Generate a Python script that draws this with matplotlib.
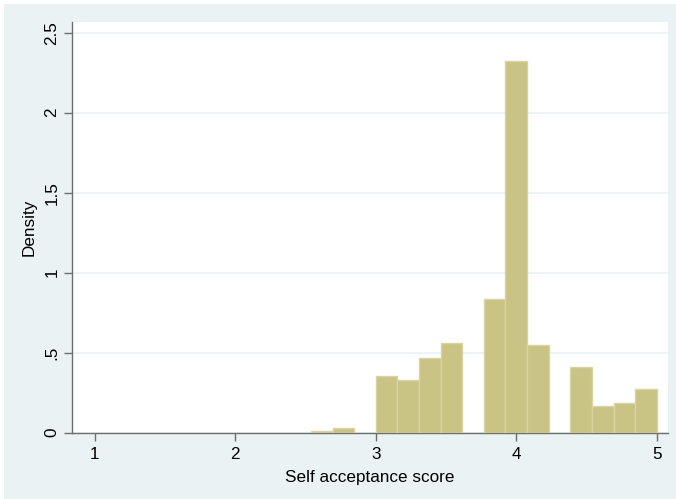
import numpy as np
import matplotlib
matplotlib.use("Agg")
import matplotlib.pyplot as plt
from matplotlib.patches import Rectangle

plt.rcParams['font.family'] = ['Liberation Sans', 'DejaVu Sans']

# Histogram of self acceptance scores: 26 bins spanning 1..5
bin_lo = 1.0
bin_hi = 5.0
n_bins = 26
density = [0, 0, 0, 0, 0, 0, 0, 0, 0, 0,
           0.009, 0.028, 0, 0.353, 0.328, 0.466, 0.559, 0,
           0.834, 2.323, 0.551, 0, 0.409, 0.166, 0.184, 0.272]
x_ticks = [1, 2, 3, 4, 5]
y_ticks = [0, 0.5, 1, 1.5, 2, 2.5]
y_tick_labels = ["0", ".5", "1", "1.5", "2", "2.5"]

bg = "#EAF2F3"
fill = "#C9C384"
edge = "#D9D4A6"
axis_col = "#6E6E6E"

W, H = 676, 499
fig = plt.figure(figsize=(W / 100, H / 100), dpi=100, facecolor="white")
fig.add_artist(Rectangle((4 / W, 0), 1, (H - 4) / H, transform=fig.transFigure,
                         facecolor=bg, edgecolor="none", zorder=-10))

ax = fig.add_axes([72 / W, (H - 432.7) / H, (667.7 - 72) / W, (432.7 - 22) / H])
ax.set_zorder(5)
ax.set_facecolor("white")

edges = np.linspace(bin_lo, bin_hi, n_bins + 1)
dens = np.array(density)
mask = dens > 0
ax.bar(edges[:-1][mask], dens[mask], width=np.diff(edges)[mask], align="edge",
       color=fill, edgecolor=edge, linewidth=1.0, zorder=3)

ax.set_xlim(0.838, 5.078)
ax.set_ylim(0, 2.567)

ax.set_yticks(y_ticks)
ax.set_yticklabels(y_tick_labels, rotation=90, va="center")
ax.set_xticks(x_ticks)
ax.yaxis.grid(True, color=bg, linewidth=1.2, zorder=1)
ax.set_axisbelow(True)

for s in ("top", "right"):
    ax.spines[s].set_visible(False)
for s in ("left", "bottom"):
    ax.spines[s].set_color(axis_col)
    ax.spines[s].set_linewidth(1.0)

ax.tick_params(axis="both", colors=axis_col, length=6, width=1.0,
               labelcolor="black", labelsize=12.3)
ax.tick_params(axis="x", pad=4)
ax.tick_params(axis="y", pad=3)

ax.set_xlabel("Self acceptance score", fontsize=12.3, labelpad=6)
ax.set_ylabel("Density", fontsize=12.3, labelpad=6)

fig.savefig("out.png", dpi=100, facecolor=fig.get_facecolor())
